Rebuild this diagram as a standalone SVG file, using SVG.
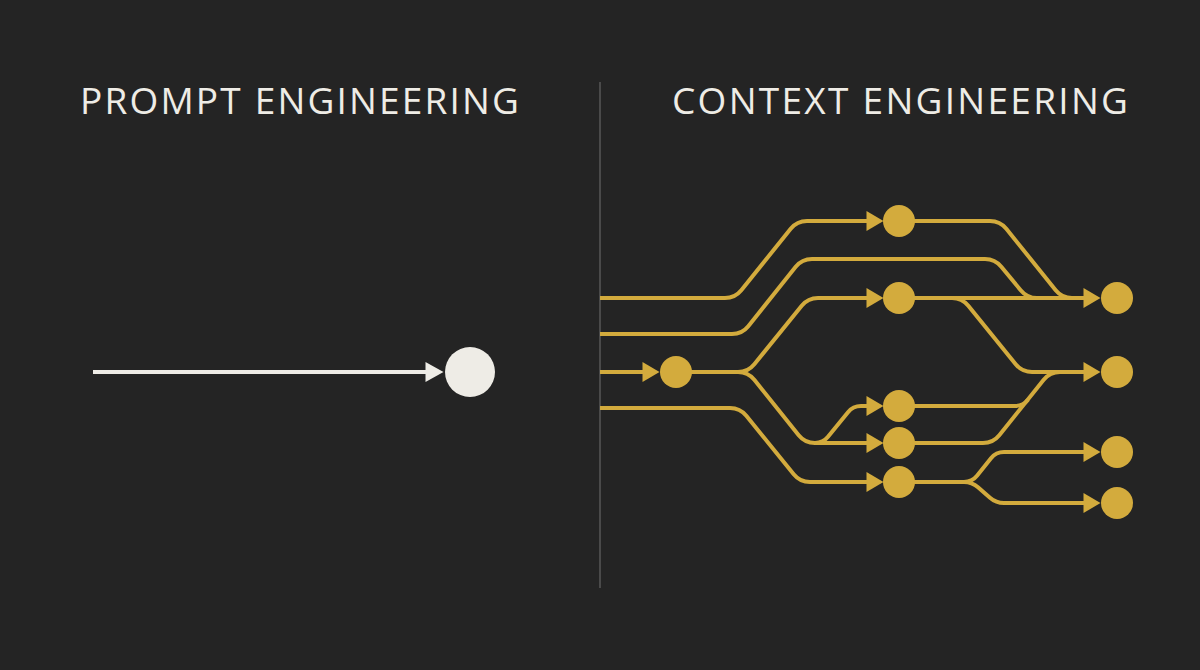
<svg xmlns="http://www.w3.org/2000/svg" width="1200" height="670" viewBox="0 0 1200 670">
<style>
.title{font-family:"Open Sans","Liberation Sans",sans-serif;font-weight:400;font-size:37px;fill:#EEECE6}
.gl{fill:none;stroke:#D3AB3D;stroke-width:4;stroke-linejoin:round}
.gn{fill:#D3AB3D}
.wl{fill:none;stroke:#EEECE6;stroke-width:4}
</style>
<defs>
<marker id="ag" markerUnits="userSpaceOnUse" markerWidth="18" markerHeight="20" viewBox="0 0 17 20" refX="0.5" refY="10" orient="auto"><path d="M0,0 L17,10 L0,20 z" fill="#D3AB3D"/></marker>
<marker id="aw" markerUnits="userSpaceOnUse" markerWidth="19" markerHeight="20" viewBox="0 0 18 20" refX="0.5" refY="10" orient="auto"><path d="M0,0 L18,10 L0,20 z" fill="#EEECE6"/></marker>
</defs>
<rect width="1200" height="670" fill="#242424"/>
<line x1="600" y1="82" x2="600" y2="588" stroke="#4a4a4a" stroke-width="2"/>
<text class="title" x="80" y="114" textLength="439" lengthAdjust="spacing">PROMPT ENGINEERING</text>
<text class="title" x="672" y="114" textLength="456" lengthAdjust="spacing">CONTEXT ENGINEERING</text>
<g id="connectors">
<path class="wl" d="M93,372 H426" marker-end="url(#aw)"/>
<path class="gl" d="M600,298 H725 Q735,298 741.3,290.2 L790.7,228.8 Q797,221 807,221 H867" marker-end="url(#ag)"/>
<path class="gl" d="M600,334 H732 Q742,334 748.3,326.2 L795.7,266.8 Q802,259 812,259 H985 Q995,259 1001.3,266.8 L1020.7,290.2 Q1027,298 1037,298 H1060"/>
<path class="gl" d="M899,221 H990 Q1000,221 1006.3,228.8 L1055.7,290.2 Q1062,298 1072,298 H1080"/>
<path class="gl" d="M899,298 H1084" marker-end="url(#ag)"/>
<path class="gl" d="M899,298 H952 Q962,298 968.3,305.8 L1015.7,364.2 Q1022,372 1032,372 H1084" marker-end="url(#ag)"/>
<path class="gl" d="M600,372 H643" marker-end="url(#ag)"/>
<path class="gl" d="M676,372 H738 Q748,372 754.3,364.2 L801.7,305.8 Q808,298 818,298 H867" marker-end="url(#ag)"/>
<path class="gl" d="M676,372 H738 Q748,372 754.3,379.8 L798.7,435.2 Q805,443 815,443 H867" marker-end="url(#ag)"/>
<path class="gl" d="M814,443 H815 Q823,443 828,436.8 L848,412.2 Q853,406 861,406 H867" marker-end="url(#ag)"/>
<path class="gl" d="M600,408 H730 Q740,408 746.3,415.8 L793.7,474.2 Q800,482 810,482 H867" marker-end="url(#ag)"/>
<path class="gl" d="M899,443 H983 Q993,443 999.3,435.2 L1043.7,379.8 Q1050,372 1060,372 H1080"/>
<path class="gl" d="M899,406 H1015 Q1023,406 1028,399.8"/>
<path class="gl" d="M899,482 H964 Q972,482 977,475.8 L991,458.2 Q996,452 1004,452 H1084" marker-end="url(#ag)"/>
<path class="gl" d="M964,482 Q972,482 978,487.3 L990,497.7 Q996,503 1004,503 H1084" marker-end="url(#ag)"/>
</g>
<g id="node-prompt"><circle cx="470" cy="372" r="25" fill="#EEECE6"/></g>
<g id="node-in"><circle class="gn" cx="676" cy="372" r="16"/></g>
<g id="node-m1"><circle class="gn" cx="899" cy="221" r="16"/></g>
<g id="node-m2"><circle class="gn" cx="899" cy="298" r="16"/></g>
<g id="node-m3"><circle class="gn" cx="899" cy="406" r="16"/></g>
<g id="node-m4"><circle class="gn" cx="899" cy="443" r="16"/></g>
<g id="node-m5"><circle class="gn" cx="899" cy="482" r="16"/></g>
<g id="node-o1"><circle class="gn" cx="1117" cy="298" r="16"/></g>
<g id="node-o2"><circle class="gn" cx="1117" cy="372" r="16"/></g>
<g id="node-o3"><circle class="gn" cx="1117" cy="452" r="16"/></g>
<g id="node-o4"><circle class="gn" cx="1117" cy="503" r="16"/></g>
</svg>
